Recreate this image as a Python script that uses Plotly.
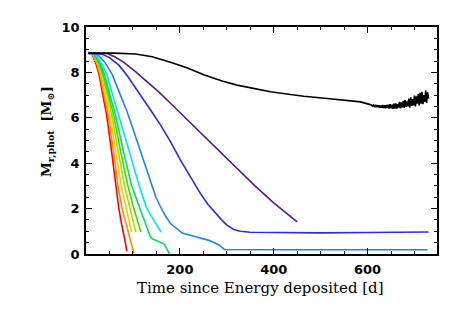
import plotly.graph_objects as go

# ---- data ----
red_t = [5, 13, 21, 28, 36, 44, 54, 63, 70, 76, 79, 83, 87]
red_y = [8.85, 8.8, 8.4, 7.88, 7.0, 6.12, 4.6, 3.03, 2.0, 1.3, 1.05, 0.6, 0.13]

orange_t = [5, 14, 23, 30, 38.5, 47, 58, 68, 77, 84, 91.5, 95, 98, 102]
orange_y = [8.85, 8.8, 8.4, 7.88, 7.0, 6.12, 4.6, 3.03, 2.0, 1.45, 0.97, 0.6, 0.35, 0.03]

yellow_t = [5, 15, 24, 32, 41, 51, 63, 75, 86, 92, 97]
yellow_y = [8.85, 8.8, 8.4, 7.88, 7.0, 6.12, 4.6, 3.03, 2.0, 1.45, 0.97]

ygreen_t = [5, 16, 26, 35, 45, 55, 68, 82, 94, 100, 106]
ygreen_y = [8.85, 8.8, 8.4, 7.88, 7.0, 6.12, 4.6, 3.03, 2.0, 1.45, 0.97]

green_t = [5, 17, 28, 37, 48, 59, 73, 89, 102, 110, 117]
green_y = [8.85, 8.8, 8.4, 7.88, 7.0, 6.12, 4.6, 3.03, 2.0, 1.4, 0.97]

sgreen_t = [5, 18, 30, 40, 51, 63, 79, 97, 115, 130, 136, 141, 155, 166, 172, 178]
sgreen_y = [8.85, 8.8, 8.4, 7.88, 7.0, 6.12, 4.6, 3.03, 2.0, 1.15, 0.82, 0.67, 0.55, 0.45, 0.25, 0.0]

cyan_t = [5, 20, 33, 45, 57, 70, 91, 113, 128, 138, 150, 160]
cyan_y = [8.85, 8.8, 8.4, 7.88, 7.0, 6.12, 4.6, 3.03, 2.1, 1.7, 1.3, 0.97]

dblue_t = [5, 24, 40, 56, 71, 87, 100, 113, 126, 139, 149, 159, 170, 180, 193, 205, 230, 262, 283, 295, 400, 500, 600, 728]
dblue_y = [8.85, 8.8, 8.45, 7.9, 7.12, 6.3, 5.52, 4.72, 3.85, 3.03, 2.5, 2.07, 1.65, 1.34, 1.1, 0.92, 0.78, 0.6, 0.41, 0.2, 0.19, 0.19, 0.19, 0.19]

blue_t = [5, 35, 50, 70, 88, 106, 122, 139, 159, 180, 201, 222, 244, 260, 276, 290, 301, 315, 329, 350, 400, 450, 500, 600, 700, 730]
blue_y = [8.85, 8.8, 8.65, 8.32, 7.85, 7.32, 6.82, 6.3, 5.68, 4.95, 4.15, 3.4, 2.66, 2.18, 1.78, 1.48, 1.26, 1.08, 1.0, 0.96, 0.95, 0.93, 0.93, 0.95, 0.96, 0.97]

purple_t = [5, 45, 60, 80, 106, 130, 155, 180, 210, 244, 285, 320, 360, 400, 430, 450]
purple_y = [8.85, 8.83, 8.7, 8.45, 8.02, 7.6, 7.14, 6.64, 6.03, 5.33, 4.5, 3.8, 3.0, 2.25, 1.75, 1.41]

black_t = [5, 60, 106, 141, 180, 215, 251, 290, 322, 343, 393, 436, 464, 514, 550, 585, 606,
           608, 610, 612, 614, 616, 618, 620, 622, 624, 626, 628, 630, 632, 634, 636, 638, 640,
           642, 644, 646, 648, 650, 652, 654, 656, 658, 660, 662, 664, 666, 668, 670, 672, 674,
           676, 678, 680, 682, 684, 686, 688, 690, 692, 694, 696, 698, 700, 702, 704, 706, 708,
           710, 712, 714, 716, 718, 720, 722, 724, 726, 728, 730]
black_y = [8.85, 8.85, 8.81, 8.69, 8.45, 8.2, 7.9, 7.62, 7.44, 7.35, 7.15, 7.03, 6.95, 6.85, 6.78, 6.70, 6.58,
           6.57, 6.52, 6.56, 6.50, 6.55, 6.49, 6.56, 6.47, 6.55, 6.45, 6.54, 6.44, 6.56, 6.43, 6.55, 6.42, 6.57,
           6.43, 6.58, 6.41, 6.60, 6.42, 6.58, 6.40, 6.62, 6.41, 6.64, 6.40, 6.60, 6.45, 6.70, 6.42, 6.68, 6.46,
           6.75, 6.44, 6.78, 6.48, 6.72, 6.50, 6.85, 6.45, 6.90, 6.52, 6.82, 6.55, 6.98, 6.50, 6.95, 6.62, 7.05,
           6.55, 7.10, 6.62, 7.15, 6.60, 7.00, 6.70, 7.20, 6.65, 7.12, 6.85]

series = [
    (red_t, red_y, "#FF0000"),
    (orange_t, orange_y, "#FF8C00"),
    (yellow_t, yellow_y, "#E8D000"),
    (ygreen_t, ygreen_y, "#A0E000"),
    (green_t, green_y, "#40D800"),
    (sgreen_t, sgreen_y, "#00E060"),
    (cyan_t, cyan_y, "#00E8E8"),
    (dblue_t, dblue_y, "#1E80FF"),
    (blue_t, blue_y, "#2A2AF0"),
    (purple_t, purple_y, "#5A1A8A"),
    (black_t, black_y, "#000000"),
]

x_ticks = [200, 400, 600]
y_ticks = [0, 2, 4, 6, 8, 10]

fig = go.Figure()
for t, y, c in series:
    fig.add_trace(go.Scatter(x=t, y=y, mode="lines", line=dict(color=c, width=1.6), showlegend=False))

axis_common = dict(
    showline=True, linecolor="black", linewidth=1.5, mirror="allticks",
    ticks="inside", ticklen=6, tickwidth=1.3, tickcolor="black",
    showgrid=False, zeroline=False, automargin=False,
    tickfont=dict(family="DejaVu Sans", size=13, color="black", weight="bold"),
)

fig.update_xaxes(range=[0, 748], tickvals=x_ticks, ticklabelstandoff=3,
                 minor=dict(ticks="inside", ticklen=3, dtick=50, tick0=0, tickcolor="black", showgrid=False),
                 **axis_common)
fig.update_yaxes(range=[0, 10], tickvals=y_ticks, ticklabelstandoff=2,
                 minor=dict(ticks="inside", ticklen=3, dtick=0.5, tick0=0, tickcolor="black", showgrid=False),
                 **axis_common)

# page body adds an 8px offset, so the figure is sized to fit inside the window
fig.update_layout(
    width=455, height=301,
    margin=dict(l=78, r=26, t=19, b=55),
    plot_bgcolor="white", paper_bgcolor="white",
    annotations=[
        dict(text="Time since Energy deposited [d]", xref="paper", yref="paper",
             x=0.496, y=-0.148, xanchor="center", yanchor="middle", showarrow=False,
             font=dict(family="DejaVu Serif", size=15, color="black")),
        dict(text="<b>M<sub>r,phot</sub></b>  <b>[M<sub>⊙</sub>]</b>", xref="paper", yref="paper",
             x=0, xshift=-39, y=0.537, xanchor="center", yanchor="middle", showarrow=False,
             textangle=-90, font=dict(family="DejaVu Serif", size=13.5, color="black")),
    ],
)

fig.write_html("out.html")
